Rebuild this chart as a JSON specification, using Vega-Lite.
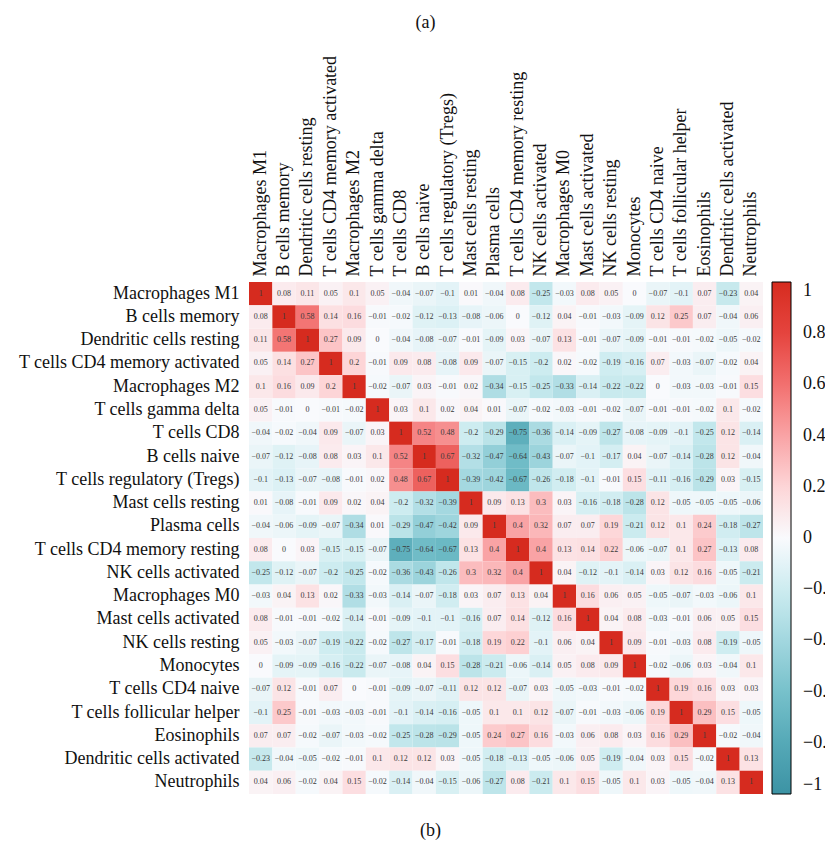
{
  "$schema": "https://vega.github.io/schema/vega-lite/v6.json",
  "width": 514,
  "height": 512,
  "autosize": {"type": "none"},
  "padding": {"left": 249, "top": 282, "right": 62, "bottom": 50},
  "background": "#ffffff",
  "config": {
    "font": "Liberation Serif",
    "view": {"stroke": null},
    "axis": {"labelColor": "#111111", "titleColor": "#111111", "titleFontWeight": "normal", "titleFontSize": 18, "labelFontSize": 18, "ticks": false, "domain": false, "grid": false, "labelLimit": 400}
  },
  "datasets": {
    "cells": [
      {"k": 0, "name": "Macrophages M1"},
      {"k": 1, "name": "B cells memory"},
      {"k": 2, "name": "Dendritic cells resting"},
      {"k": 3, "name": "T cells CD4 memory activated"},
      {"k": 4, "name": "Macrophages M2"},
      {"k": 5, "name": "T cells gamma delta"},
      {"k": 6, "name": "T cells CD8"},
      {"k": 7, "name": "B cells naive"},
      {"k": 8, "name": "T cells regulatory (Tregs)"},
      {"k": 9, "name": "Mast cells resting"},
      {"k": 10, "name": "Plasma cells"},
      {"k": 11, "name": "T cells CD4 memory resting"},
      {"k": 12, "name": "NK cells activated"},
      {"k": 13, "name": "Macrophages M0"},
      {"k": 14, "name": "Mast cells activated"},
      {"k": 15, "name": "NK cells resting"},
      {"k": 16, "name": "Monocytes"},
      {"k": 17, "name": "T cells CD4 naive"},
      {"k": 18, "name": "T cells follicular helper"},
      {"k": 19, "name": "Eosinophils"},
      {"k": 20, "name": "Dendritic cells activated"},
      {"k": 21, "name": "Neutrophils"}
    ],
    "corr": [
      {"i":0,"j":0,"r":1},{"i":0,"j":1,"r":0.08},{"i":0,"j":2,"r":0.11},{"i":0,"j":3,"r":0.05},{"i":0,"j":4,"r":0.1},{"i":0,"j":5,"r":0.05},{"i":0,"j":6,"r":-0.04},{"i":0,"j":7,"r":-0.07},{"i":0,"j":8,"r":-0.1},{"i":0,"j":9,"r":0.01},{"i":0,"j":10,"r":-0.04},{"i":0,"j":11,"r":0.08},{"i":0,"j":12,"r":-0.25},{"i":0,"j":13,"r":-0.03},{"i":0,"j":14,"r":0.08},{"i":0,"j":15,"r":0.05},{"i":0,"j":16,"r":0},{"i":0,"j":17,"r":-0.07},{"i":0,"j":18,"r":-0.1},{"i":0,"j":19,"r":0.07},{"i":0,"j":20,"r":-0.23},{"i":0,"j":21,"r":0.04},
      {"i":1,"j":0,"r":0.08},{"i":1,"j":1,"r":1},{"i":1,"j":2,"r":0.58},{"i":1,"j":3,"r":0.14},{"i":1,"j":4,"r":0.16},{"i":1,"j":5,"r":-0.01},{"i":1,"j":6,"r":-0.02},{"i":1,"j":7,"r":-0.12},{"i":1,"j":8,"r":-0.13},{"i":1,"j":9,"r":-0.08},{"i":1,"j":10,"r":-0.06},{"i":1,"j":11,"r":0},{"i":1,"j":12,"r":-0.12},{"i":1,"j":13,"r":0.04},{"i":1,"j":14,"r":-0.01},{"i":1,"j":15,"r":-0.03},{"i":1,"j":16,"r":-0.09},{"i":1,"j":17,"r":0.12},{"i":1,"j":18,"r":0.25},{"i":1,"j":19,"r":0.07},{"i":1,"j":20,"r":-0.04},{"i":1,"j":21,"r":0.06},
      {"i":2,"j":0,"r":0.11},{"i":2,"j":1,"r":0.58},{"i":2,"j":2,"r":1},{"i":2,"j":3,"r":0.27},{"i":2,"j":4,"r":0.09},{"i":2,"j":5,"r":0},{"i":2,"j":6,"r":-0.04},{"i":2,"j":7,"r":-0.08},{"i":2,"j":8,"r":-0.07},{"i":2,"j":9,"r":-0.01},{"i":2,"j":10,"r":-0.09},{"i":2,"j":11,"r":0.03},{"i":2,"j":12,"r":-0.07},{"i":2,"j":13,"r":0.13},{"i":2,"j":14,"r":-0.01},{"i":2,"j":15,"r":-0.07},{"i":2,"j":16,"r":-0.09},{"i":2,"j":17,"r":-0.01},{"i":2,"j":18,"r":-0.01},{"i":2,"j":19,"r":-0.02},{"i":2,"j":20,"r":-0.05},{"i":2,"j":21,"r":-0.02},
      {"i":3,"j":0,"r":0.05},{"i":3,"j":1,"r":0.14},{"i":3,"j":2,"r":0.27},{"i":3,"j":3,"r":1},{"i":3,"j":4,"r":0.2},{"i":3,"j":5,"r":-0.01},{"i":3,"j":6,"r":0.09},{"i":3,"j":7,"r":0.08},{"i":3,"j":8,"r":-0.08},{"i":3,"j":9,"r":0.09},{"i":3,"j":10,"r":-0.07},{"i":3,"j":11,"r":-0.15},{"i":3,"j":12,"r":-0.2},{"i":3,"j":13,"r":0.02},{"i":3,"j":14,"r":-0.02},{"i":3,"j":15,"r":-0.19},{"i":3,"j":16,"r":-0.16},{"i":3,"j":17,"r":0.07},{"i":3,"j":18,"r":-0.03},{"i":3,"j":19,"r":-0.07},{"i":3,"j":20,"r":-0.02},{"i":3,"j":21,"r":0.04},
      {"i":4,"j":0,"r":0.1},{"i":4,"j":1,"r":0.16},{"i":4,"j":2,"r":0.09},{"i":4,"j":3,"r":0.2},{"i":4,"j":4,"r":1},{"i":4,"j":5,"r":-0.02},{"i":4,"j":6,"r":-0.07},{"i":4,"j":7,"r":0.03},{"i":4,"j":8,"r":-0.01},{"i":4,"j":9,"r":0.02},{"i":4,"j":10,"r":-0.34},{"i":4,"j":11,"r":-0.15},{"i":4,"j":12,"r":-0.25},{"i":4,"j":13,"r":-0.33},{"i":4,"j":14,"r":-0.14},{"i":4,"j":15,"r":-0.22},{"i":4,"j":16,"r":-0.22},{"i":4,"j":17,"r":0},{"i":4,"j":18,"r":-0.03},{"i":4,"j":19,"r":-0.03},{"i":4,"j":20,"r":-0.01},{"i":4,"j":21,"r":0.15},
      {"i":5,"j":0,"r":0.05},{"i":5,"j":1,"r":-0.01},{"i":5,"j":2,"r":0},{"i":5,"j":3,"r":-0.01},{"i":5,"j":4,"r":-0.02},{"i":5,"j":5,"r":1},{"i":5,"j":6,"r":0.03},{"i":5,"j":7,"r":0.1},{"i":5,"j":8,"r":0.02},{"i":5,"j":9,"r":0.04},{"i":5,"j":10,"r":0.01},{"i":5,"j":11,"r":-0.07},{"i":5,"j":12,"r":-0.02},{"i":5,"j":13,"r":-0.03},{"i":5,"j":14,"r":-0.01},{"i":5,"j":15,"r":-0.02},{"i":5,"j":16,"r":-0.07},{"i":5,"j":17,"r":-0.01},{"i":5,"j":18,"r":-0.01},{"i":5,"j":19,"r":-0.02},{"i":5,"j":20,"r":0.1},{"i":5,"j":21,"r":-0.02},
      {"i":6,"j":0,"r":-0.04},{"i":6,"j":1,"r":-0.02},{"i":6,"j":2,"r":-0.04},{"i":6,"j":3,"r":0.09},{"i":6,"j":4,"r":-0.07},{"i":6,"j":5,"r":0.03},{"i":6,"j":6,"r":1},{"i":6,"j":7,"r":0.52},{"i":6,"j":8,"r":0.48},{"i":6,"j":9,"r":-0.2},{"i":6,"j":10,"r":-0.29},{"i":6,"j":11,"r":-0.75},{"i":6,"j":12,"r":-0.36},{"i":6,"j":13,"r":-0.14},{"i":6,"j":14,"r":-0.09},{"i":6,"j":15,"r":-0.27},{"i":6,"j":16,"r":-0.08},{"i":6,"j":17,"r":-0.09},{"i":6,"j":18,"r":-0.1},{"i":6,"j":19,"r":-0.25},{"i":6,"j":20,"r":0.12},{"i":6,"j":21,"r":-0.14},
      {"i":7,"j":0,"r":-0.07},{"i":7,"j":1,"r":-0.12},{"i":7,"j":2,"r":-0.08},{"i":7,"j":3,"r":0.08},{"i":7,"j":4,"r":0.03},{"i":7,"j":5,"r":0.1},{"i":7,"j":6,"r":0.52},{"i":7,"j":7,"r":1},{"i":7,"j":8,"r":0.67},{"i":7,"j":9,"r":-0.32},{"i":7,"j":10,"r":-0.47},{"i":7,"j":11,"r":-0.64},{"i":7,"j":12,"r":-0.43},{"i":7,"j":13,"r":-0.07},{"i":7,"j":14,"r":-0.1},{"i":7,"j":15,"r":-0.17},{"i":7,"j":16,"r":0.04},{"i":7,"j":17,"r":-0.07},{"i":7,"j":18,"r":-0.14},{"i":7,"j":19,"r":-0.28},{"i":7,"j":20,"r":0.12},{"i":7,"j":21,"r":-0.04},
      {"i":8,"j":0,"r":-0.1},{"i":8,"j":1,"r":-0.13},{"i":8,"j":2,"r":-0.07},{"i":8,"j":3,"r":-0.08},{"i":8,"j":4,"r":-0.01},{"i":8,"j":5,"r":0.02},{"i":8,"j":6,"r":0.48},{"i":8,"j":7,"r":0.67},{"i":8,"j":8,"r":1},{"i":8,"j":9,"r":-0.39},{"i":8,"j":10,"r":-0.42},{"i":8,"j":11,"r":-0.67},{"i":8,"j":12,"r":-0.26},{"i":8,"j":13,"r":-0.18},{"i":8,"j":14,"r":-0.1},{"i":8,"j":15,"r":-0.01},{"i":8,"j":16,"r":0.15},{"i":8,"j":17,"r":-0.11},{"i":8,"j":18,"r":-0.16},{"i":8,"j":19,"r":-0.29},{"i":8,"j":20,"r":0.03},{"i":8,"j":21,"r":-0.15},
      {"i":9,"j":0,"r":0.01},{"i":9,"j":1,"r":-0.08},{"i":9,"j":2,"r":-0.01},{"i":9,"j":3,"r":0.09},{"i":9,"j":4,"r":0.02},{"i":9,"j":5,"r":0.04},{"i":9,"j":6,"r":-0.2},{"i":9,"j":7,"r":-0.32},{"i":9,"j":8,"r":-0.39},{"i":9,"j":9,"r":1},{"i":9,"j":10,"r":0.09},{"i":9,"j":11,"r":0.13},{"i":9,"j":12,"r":0.3},{"i":9,"j":13,"r":0.03},{"i":9,"j":14,"r":-0.16},{"i":9,"j":15,"r":-0.18},{"i":9,"j":16,"r":-0.28},{"i":9,"j":17,"r":0.12},{"i":9,"j":18,"r":-0.05},{"i":9,"j":19,"r":-0.05},{"i":9,"j":20,"r":-0.05},{"i":9,"j":21,"r":-0.06},
      {"i":10,"j":0,"r":-0.04},{"i":10,"j":1,"r":-0.06},{"i":10,"j":2,"r":-0.09},{"i":10,"j":3,"r":-0.07},{"i":10,"j":4,"r":-0.34},{"i":10,"j":5,"r":0.01},{"i":10,"j":6,"r":-0.29},{"i":10,"j":7,"r":-0.47},{"i":10,"j":8,"r":-0.42},{"i":10,"j":9,"r":0.09},{"i":10,"j":10,"r":1},{"i":10,"j":11,"r":0.4},{"i":10,"j":12,"r":0.32},{"i":10,"j":13,"r":0.07},{"i":10,"j":14,"r":0.07},{"i":10,"j":15,"r":0.19},{"i":10,"j":16,"r":-0.21},{"i":10,"j":17,"r":0.12},{"i":10,"j":18,"r":0.1},{"i":10,"j":19,"r":0.24},{"i":10,"j":20,"r":-0.18},{"i":10,"j":21,"r":-0.27},
      {"i":11,"j":0,"r":0.08},{"i":11,"j":1,"r":0},{"i":11,"j":2,"r":0.03},{"i":11,"j":3,"r":-0.15},{"i":11,"j":4,"r":-0.15},{"i":11,"j":5,"r":-0.07},{"i":11,"j":6,"r":-0.75},{"i":11,"j":7,"r":-0.64},{"i":11,"j":8,"r":-0.67},{"i":11,"j":9,"r":0.13},{"i":11,"j":10,"r":0.4},{"i":11,"j":11,"r":1},{"i":11,"j":12,"r":0.4},{"i":11,"j":13,"r":0.13},{"i":11,"j":14,"r":0.14},{"i":11,"j":15,"r":0.22},{"i":11,"j":16,"r":-0.06},{"i":11,"j":17,"r":-0.07},{"i":11,"j":18,"r":0.1},{"i":11,"j":19,"r":0.27},{"i":11,"j":20,"r":-0.13},{"i":11,"j":21,"r":0.08},
      {"i":12,"j":0,"r":-0.25},{"i":12,"j":1,"r":-0.12},{"i":12,"j":2,"r":-0.07},{"i":12,"j":3,"r":-0.2},{"i":12,"j":4,"r":-0.25},{"i":12,"j":5,"r":-0.02},{"i":12,"j":6,"r":-0.36},{"i":12,"j":7,"r":-0.43},{"i":12,"j":8,"r":-0.26},{"i":12,"j":9,"r":0.3},{"i":12,"j":10,"r":0.32},{"i":12,"j":11,"r":0.4},{"i":12,"j":12,"r":1},{"i":12,"j":13,"r":0.04},{"i":12,"j":14,"r":-0.12},{"i":12,"j":15,"r":-0.1},{"i":12,"j":16,"r":-0.14},{"i":12,"j":17,"r":0.03},{"i":12,"j":18,"r":0.12},{"i":12,"j":19,"r":0.16},{"i":12,"j":20,"r":-0.05},{"i":12,"j":21,"r":-0.21},
      {"i":13,"j":0,"r":-0.03},{"i":13,"j":1,"r":0.04},{"i":13,"j":2,"r":0.13},{"i":13,"j":3,"r":0.02},{"i":13,"j":4,"r":-0.33},{"i":13,"j":5,"r":-0.03},{"i":13,"j":6,"r":-0.14},{"i":13,"j":7,"r":-0.07},{"i":13,"j":8,"r":-0.18},{"i":13,"j":9,"r":0.03},{"i":13,"j":10,"r":0.07},{"i":13,"j":11,"r":0.13},{"i":13,"j":12,"r":0.04},{"i":13,"j":13,"r":1},{"i":13,"j":14,"r":0.16},{"i":13,"j":15,"r":0.06},{"i":13,"j":16,"r":0.05},{"i":13,"j":17,"r":-0.05},{"i":13,"j":18,"r":-0.07},{"i":13,"j":19,"r":-0.03},{"i":13,"j":20,"r":-0.06},{"i":13,"j":21,"r":0.1},
      {"i":14,"j":0,"r":0.08},{"i":14,"j":1,"r":-0.01},{"i":14,"j":2,"r":-0.01},{"i":14,"j":3,"r":-0.02},{"i":14,"j":4,"r":-0.14},{"i":14,"j":5,"r":-0.01},{"i":14,"j":6,"r":-0.09},{"i":14,"j":7,"r":-0.1},{"i":14,"j":8,"r":-0.1},{"i":14,"j":9,"r":-0.16},{"i":14,"j":10,"r":0.07},{"i":14,"j":11,"r":0.14},{"i":14,"j":12,"r":-0.12},{"i":14,"j":13,"r":0.16},{"i":14,"j":14,"r":1},{"i":14,"j":15,"r":0.04},{"i":14,"j":16,"r":0.08},{"i":14,"j":17,"r":-0.03},{"i":14,"j":18,"r":-0.01},{"i":14,"j":19,"r":0.06},{"i":14,"j":20,"r":0.05},{"i":14,"j":21,"r":0.15},
      {"i":15,"j":0,"r":0.05},{"i":15,"j":1,"r":-0.03},{"i":15,"j":2,"r":-0.07},{"i":15,"j":3,"r":-0.19},{"i":15,"j":4,"r":-0.22},{"i":15,"j":5,"r":-0.02},{"i":15,"j":6,"r":-0.27},{"i":15,"j":7,"r":-0.17},{"i":15,"j":8,"r":-0.01},{"i":15,"j":9,"r":-0.18},{"i":15,"j":10,"r":0.19},{"i":15,"j":11,"r":0.22},{"i":15,"j":12,"r":-0.1},{"i":15,"j":13,"r":0.06},{"i":15,"j":14,"r":0.04},{"i":15,"j":15,"r":1},{"i":15,"j":16,"r":0.09},{"i":15,"j":17,"r":-0.01},{"i":15,"j":18,"r":-0.03},{"i":15,"j":19,"r":0.08},{"i":15,"j":20,"r":-0.19},{"i":15,"j":21,"r":-0.05},
      {"i":16,"j":0,"r":0},{"i":16,"j":1,"r":-0.09},{"i":16,"j":2,"r":-0.09},{"i":16,"j":3,"r":-0.16},{"i":16,"j":4,"r":-0.22},{"i":16,"j":5,"r":-0.07},{"i":16,"j":6,"r":-0.08},{"i":16,"j":7,"r":0.04},{"i":16,"j":8,"r":0.15},{"i":16,"j":9,"r":-0.28},{"i":16,"j":10,"r":-0.21},{"i":16,"j":11,"r":-0.06},{"i":16,"j":12,"r":-0.14},{"i":16,"j":13,"r":0.05},{"i":16,"j":14,"r":0.08},{"i":16,"j":15,"r":0.09},{"i":16,"j":16,"r":1},{"i":16,"j":17,"r":-0.02},{"i":16,"j":18,"r":-0.06},{"i":16,"j":19,"r":0.03},{"i":16,"j":20,"r":-0.04},{"i":16,"j":21,"r":0.1},
      {"i":17,"j":0,"r":-0.07},{"i":17,"j":1,"r":0.12},{"i":17,"j":2,"r":-0.01},{"i":17,"j":3,"r":0.07},{"i":17,"j":4,"r":0},{"i":17,"j":5,"r":-0.01},{"i":17,"j":6,"r":-0.09},{"i":17,"j":7,"r":-0.07},{"i":17,"j":8,"r":-0.11},{"i":17,"j":9,"r":0.12},{"i":17,"j":10,"r":0.12},{"i":17,"j":11,"r":-0.07},{"i":17,"j":12,"r":0.03},{"i":17,"j":13,"r":-0.05},{"i":17,"j":14,"r":-0.03},{"i":17,"j":15,"r":-0.01},{"i":17,"j":16,"r":-0.02},{"i":17,"j":17,"r":1},{"i":17,"j":18,"r":0.19},{"i":17,"j":19,"r":0.16},{"i":17,"j":20,"r":0.03},{"i":17,"j":21,"r":0.03},
      {"i":18,"j":0,"r":-0.1},{"i":18,"j":1,"r":0.25},{"i":18,"j":2,"r":-0.01},{"i":18,"j":3,"r":-0.03},{"i":18,"j":4,"r":-0.03},{"i":18,"j":5,"r":-0.01},{"i":18,"j":6,"r":-0.1},{"i":18,"j":7,"r":-0.14},{"i":18,"j":8,"r":-0.16},{"i":18,"j":9,"r":-0.05},{"i":18,"j":10,"r":0.1},{"i":18,"j":11,"r":0.1},{"i":18,"j":12,"r":0.12},{"i":18,"j":13,"r":-0.07},{"i":18,"j":14,"r":-0.01},{"i":18,"j":15,"r":-0.03},{"i":18,"j":16,"r":-0.06},{"i":18,"j":17,"r":0.19},{"i":18,"j":18,"r":1},{"i":18,"j":19,"r":0.29},{"i":18,"j":20,"r":0.15},{"i":18,"j":21,"r":-0.05},
      {"i":19,"j":0,"r":0.07},{"i":19,"j":1,"r":0.07},{"i":19,"j":2,"r":-0.02},{"i":19,"j":3,"r":-0.07},{"i":19,"j":4,"r":-0.03},{"i":19,"j":5,"r":-0.02},{"i":19,"j":6,"r":-0.25},{"i":19,"j":7,"r":-0.28},{"i":19,"j":8,"r":-0.29},{"i":19,"j":9,"r":-0.05},{"i":19,"j":10,"r":0.24},{"i":19,"j":11,"r":0.27},{"i":19,"j":12,"r":0.16},{"i":19,"j":13,"r":-0.03},{"i":19,"j":14,"r":0.06},{"i":19,"j":15,"r":0.08},{"i":19,"j":16,"r":0.03},{"i":19,"j":17,"r":0.16},{"i":19,"j":18,"r":0.29},{"i":19,"j":19,"r":1},{"i":19,"j":20,"r":-0.02},{"i":19,"j":21,"r":-0.04},
      {"i":20,"j":0,"r":-0.23},{"i":20,"j":1,"r":-0.04},{"i":20,"j":2,"r":-0.05},{"i":20,"j":3,"r":-0.02},{"i":20,"j":4,"r":-0.01},{"i":20,"j":5,"r":0.1},{"i":20,"j":6,"r":0.12},{"i":20,"j":7,"r":0.12},{"i":20,"j":8,"r":0.03},{"i":20,"j":9,"r":-0.05},{"i":20,"j":10,"r":-0.18},{"i":20,"j":11,"r":-0.13},{"i":20,"j":12,"r":-0.05},{"i":20,"j":13,"r":-0.06},{"i":20,"j":14,"r":0.05},{"i":20,"j":15,"r":-0.19},{"i":20,"j":16,"r":-0.04},{"i":20,"j":17,"r":0.03},{"i":20,"j":18,"r":0.15},{"i":20,"j":19,"r":-0.02},{"i":20,"j":20,"r":1},{"i":20,"j":21,"r":0.13},
      {"i":21,"j":0,"r":0.04},{"i":21,"j":1,"r":0.06},{"i":21,"j":2,"r":-0.02},{"i":21,"j":3,"r":0.04},{"i":21,"j":4,"r":0.15},{"i":21,"j":5,"r":-0.02},{"i":21,"j":6,"r":-0.14},{"i":21,"j":7,"r":-0.04},{"i":21,"j":8,"r":-0.15},{"i":21,"j":9,"r":-0.06},{"i":21,"j":10,"r":-0.27},{"i":21,"j":11,"r":0.08},{"i":21,"j":12,"r":-0.21},{"i":21,"j":13,"r":0.1},{"i":21,"j":14,"r":0.15},{"i":21,"j":15,"r":-0.05},{"i":21,"j":16,"r":0.1},{"i":21,"j":17,"r":0.03},{"i":21,"j":18,"r":-0.05},{"i":21,"j":19,"r":-0.04},{"i":21,"j":20,"r":0.13},{"i":21,"j":21,"r":1}
    ]
  },
  "data": {"name": "corr"},
  "transform": [
    {"lookup": "i", "from": {"data": {"name": "cells"}, "key": "k", "fields": ["name"]}, "as": ["row"]},
    {"lookup": "j", "from": {"data": {"name": "cells"}, "key": "k", "fields": ["name"]}, "as": ["col"]}
  ],
  "layer": [
    {
      "mark": {"type": "rect"},
      "encoding": {
        "x": {
          "field": "col", "type": "nominal", "sort": {"field": "j", "op": "min"},
          "scale": {"paddingInner": 0, "paddingOuter": 0},
          "axis": {"orient": "top", "labelAngle": -90, "labelPadding": 6, "title": "(a)", "titleX": 176, "titleY": -260, "titleAlign": "center", "titleBaseline": "middle", "titleAngle": 0}
        },
        "y": {
          "field": "row", "type": "nominal", "sort": {"field": "i", "op": "min"},
          "scale": {"paddingInner": 0, "paddingOuter": 0},
          "axis": {"labelPadding": 10, "title": null}
        },
        "color": {
          "field": "r", "type": "quantitative",
          "scale": {
            "domain": [-1, -0.8, -0.6, -0.4, -0.2, 0, 0.2, 0.4, 0.6, 0.8, 1],
            "range": ["#3c93a4", "#55a9b7", "#77c1cb", "#a2d7df", "#cdecf0", "#f9fafd", "#fdd5d7", "#f9a3a5", "#f2706f", "#e5443e", "#d62b1f"],
            "interpolate": "rgb"
          },
          "legend": {
            "orient": "right", "direction": "vertical", "title": null, "offset": 9, "padding": 0,
            "gradientLength": 512, "gradientThickness": 19, "gradientStrokeColor": "#000000", "gradientStrokeWidth": 1,
            "values": [1, 0.8, 0.6, 0.4, 0.2, 0, -0.2, -0.4, -0.6, -0.8, -1],
            "format": ".1~f",
            "labelFontSize": 18, "labelOffset": 12, "labelBaseline": "middle", "labelColor": "#111111", "labelOverlap": false
          }
        }
      }
    },
    {
      "mark": {"type": "text", "fontSize": 8, "color": "#3a3a3a"},
      "encoding": {
        "x": {
          "field": "col", "type": "nominal", "sort": {"field": "j", "op": "min"},
          "axis": {"orient": "bottom", "labels": false, "title": "(b)", "titleX": 181, "titleY": 36, "titleAlign": "center", "titleBaseline": "middle"}
        },
        "y": {"field": "row", "type": "nominal", "sort": {"field": "i", "op": "min"}},
        "text": {"field": "r", "type": "quantitative", "format": ".2~f"}
      }
    }
  ],
  "resolve": {"axis": {"x": "independent"}}
}
